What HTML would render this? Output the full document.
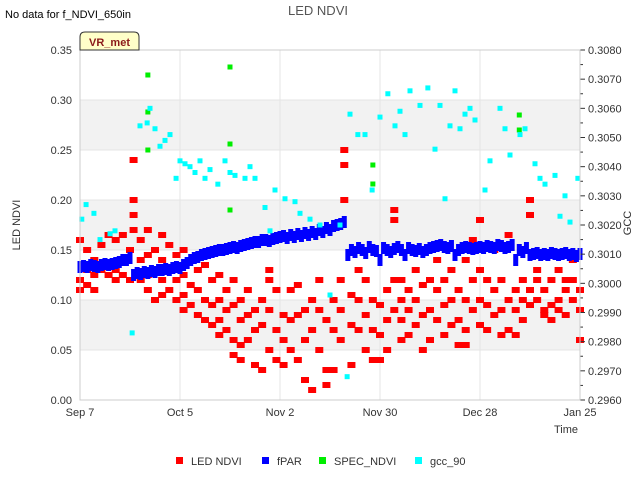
<!DOCTYPE html>
<html><head><meta charset="utf-8"><style>
body{margin:0;background:#fff;}
svg{display:block;font-family:"Liberation Sans",sans-serif;}
</style></head><body>
<svg id="chart" width="640" height="480" viewBox="0 0 640 480" xmlns="http://www.w3.org/2000/svg">
<rect x="0" y="0" width="640" height="480" fill="#fff"/>
<text x="5" y="18" font-size="11" fill="#000">No data for f_NDVI_650in</text>
<text x="318" y="15" font-size="13" fill="#555" text-anchor="middle">LED NDVI</text>
<g id="bands"></g>
<g id="grid"></g>
<g id="marks"></g>
<g id="axes"></g>
<g>
<path d="M80,50 L80,37 Q80,32 85,32 L134,32 Q139,32 139,37 L139,50 Z" fill="#ffffc8" stroke="#333" stroke-width="1"/>
<text x="109.5" y="46" font-size="11" font-weight="bold" fill="#8b1a1a" text-anchor="middle">VR_met</text>
</g>
<text transform="translate(20,225) rotate(-90)" font-size="11" fill="#333" text-anchor="middle">LED NDVI</text>
<text transform="translate(631,223) rotate(-90)" font-size="11" fill="#333" text-anchor="middle">GCC</text>
<text x="566" y="433" font-size="11" fill="#333" text-anchor="middle">Time</text>
<g id="legend"></g>
</svg>
<script>
const xTickLabels=["Sep 7","Oct 5","Nov 2","Nov 30","Dec 28","Jan 25"];
const xTickDays=[0,28,56,84,112,140];
const yTickLabels=["0.00","0.05","0.10","0.15","0.20","0.25","0.30","0.35"];
const y2TickLabels=["0.2960","0.2970","0.2980","0.2990","0.3000","0.3010","0.3020","0.3030","0.3040","0.3050","0.3060","0.3070","0.3080"];
const fparValues=[0.133,0.134,0.133,0.135,0.134,0.133,0.135,0.136,0.135,0.136,0.137,0.138,0.14,0.14,0.142,
0.125,0.127,0.126,0.128,0.127,0.129,0.128,0.13,0.13,0.131,0.13,0.132,0.133,0.132,
0.135,0.137,0.14,0.142,0.143,0.145,0.146,0.147,0.148,0.149,0.15,0.15,0.151,0.152,0.153,0.152,0.154,0.155,0.156,0.157,0.158,0.158,0.16,0.16,0.159,0.161,0.162,
0.163,0.164,0.162,0.165,0.163,0.166,0.164,0.167,0.165,0.168,0.166,0.17,0.168,0.172,0.17,0.174,0.175,0.176,0.178,
0.145,0.15,0.148,0.152,0.15,0.147,0.153,0.15,0.149,0.14,0.152,0.15,0.148,0.151,0.153,0.15,0.145,0.152,0.15,0.149,0.151,0.148,0.15,0.152,0.153,0.154,0.155,0.153,0.152,0.154,0.145,0.15,0.152,0.153,0.152,0.151,0.152,0.153,0.152,0.154,0.153,0.152,0.155,0.154,0.152,0.153,0.155,0.14,0.15,0.148,0.152,0.145,0.146,0.147,0.145,0.146,0.145,0.147,0.146,0.145,0.146,0.147,0.145,0.146,0.144,0.146];
const ledDays=[0,2,4,6,8,10,12,14,15,17,19,21,23,25,27,29,31,33,35,37,39,41,43,45,47,49,51,53,55,57,59,61,63,65,67,69,71,73,74,76,78,80,82,84,86,88,90,92,94,96,98,100,102,104,106,108,110,112,114,116,118,120,122,124,126,128,130,132,134,136,138,140];
const ledValues=[[0.16,0.12,0.11],[0.15,0.115,0.13],[0.14,0.125,0.11],[0.155,0.13],[0.165,0.125],[0.16,0.12,0.13],[0.165,0.125],[0.15,0.12],[0.24,0.2,0.185,0.17],[0.16,0.14,0.12],[0.17,0.145,0.125,0.11],[0.15,0.13,0.10],[0.165,0.14,0.12,0.105],[0.155,0.13,0.11],[0.145,0.12,0.10],[0.15,0.125,0.105,0.09],[0.14,0.115,0.095],[0.13,0.11,0.085],[0.135,0.10,0.08],[0.12,0.095,0.075],[0.125,0.1,0.08,0.065],[0.11,0.09,0.07],[0.12,0.095,0.06,0.045],[0.1,0.08,0.055,0.04],[0.11,0.085,0.06],[0.09,0.07,0.035],[0.1,0.075,0.03],[0.13,0.12,0.09,0.05],[0.11,0.07,0.04],[0.085,0.06,0.035],[0.11,0.08,0.05],[0.115,0.085,0.04],[0.09,0.06,0.02],[0.1,0.07,0.01],[0.12,0.09,0.05],[0.08,0.03,0.015],[0.1,0.07,0.03],[0.12,0.09,0.06],[0.25,0.235,0.2],[0.105,0.075,0.035],[0.13,0.1,0.07],[0.12,0.085,0.05],[0.1,0.07,0.04],[0.095,0.065,0.04],[0.11,0.08,0.05],[0.19,0.18,0.12,0.09],[0.12,0.1,0.08,0.06],[0.11,0.09,0.065],[0.13,0.1,0.075],[0.115,0.085,0.05],[0.12,0.09,0.06],[0.14,0.11,0.08],[0.12,0.095,0.065],[0.13,0.1,0.075],[0.11,0.08,0.055],[0.14,0.1,0.07,0.055],[0.16,0.12,0.09],[0.18,0.13,0.1,0.075],[0.12,0.095,0.07],[0.15,0.11,0.085],[0.12,0.09,0.065],[0.165,0.1,0.07],[0.11,0.09,0.065],[0.12,0.1,0.08],[0.2,0.185,0.11,0.095],[0.13,0.12,0.1],[0.11,0.09,0.085],[0.12,0.095,0.08],[0.13,0.1,0.09],[0.12,0.11,0.085],[0.14,0.12,0.1],[0.11,0.09,0.06]];
const specDays=[19,19,19,42,42,42,82,82,123,123];
const specValues=[0.325,0.288,0.25,0.333,0.256,0.19,0.235,0.216,0.285,0.27];
const gccDays=[0.5,1.7,3.9,5.6,8.4,9.8,14.6,16.8,18.8,19.6,21,22.4,23.8,25.2,26.9,28,29.4,30.8,32.2,33.6,35,36.4,38.6,40.6,42,43.4,46.2,47.6,49,51.8,53.2,54.6,57.4,60.2,61.6,64.4,67.2,70,72.8,74.8,75.6,77.8,79.8,81.8,84,86.2,88.2,89.6,91,92.4,95.2,97.4,99.4,100.8,102.2,103.6,105,106.4,107.8,109.2,110.6,113.4,114.8,117.6,119,120.4,123.2,124.6,127.4,128.8,130.2,133,134.4,135.8,137.2,139.4];
const gccValues=[0.3022,0.3027,0.3024,0.3015,0.3017,0.3018,0.2983,0.3054,0.3055,0.3060,0.3053,0.3047,0.3049,0.3051,0.3036,0.3042,0.3041,0.3040,0.3038,0.3042,0.3036,0.3039,0.3034,0.3042,0.3038,0.3037,0.3036,0.3040,0.3036,0.3026,0.3018,0.3032,0.3029,0.3028,0.3024,0.3022,0.3020,0.2996,0.3020,0.2968,0.3058,0.3051,0.3051,0.3032,0.3057,0.3065,0.3054,0.3059,0.3051,0.3066,0.3061,0.3067,0.3046,0.3061,0.3029,0.3054,0.3066,0.3053,0.3058,0.3060,0.3056,0.3032,0.3042,0.3060,0.3053,0.3044,0.3051,0.3053,0.3041,0.3036,0.3034,0.3037,0.3023,0.3030,0.3021,0.3036];

const NS="http://www.w3.org/2000/svg";
const L=80,R=580,T=50,B=400;
const xs=d=>L+d*(R-L)/140;
const ys=v=>B-v*(B-T)/0.35;
const y2s=v=>B-(v-0.296)*(B-T)/0.012;
function mk(tag,attrs,parent){const e=document.createElementNS(NS,tag);for(const k in attrs)e.setAttribute(k,attrs[k]);parent.appendChild(e);return e;}
const bands=document.getElementById('bands'),grid=document.getElementById('grid'),marks=document.getElementById('marks'),axes=document.getElementById('axes'),legend=document.getElementById('legend');
[[0.05,0.10],[0.15,0.20],[0.25,0.30]].forEach(b=>{const r=mk('rect',{x:L,y:ys(b[1]),width:R-L,height:ys(b[0])-ys(b[1]),fill:'#f2f2f2'},bands);

});
yTickLabels.forEach((t,i)=>{const v=i*0.05;const y=ys(v);
const g=mk('line',{x1:L,x2:R,y1:y,y2:y,stroke:'#e4e4e4','stroke-width':1},grid);


const tx=mk('text',{x:L-8,y:y+4,'font-size':11,fill:'#333','text-anchor':'end'},axes);tx.textContent=t;

});
xTickDays.forEach((d,i)=>{const x=xs(d);
const g=mk('line',{x1:x,x2:x,y1:T,y2:B,stroke:'#e4e4e4','stroke-width':1},grid);


const tx=mk('text',{x:x,y:B+16,'font-size':11,fill:'#333','text-anchor':'middle'},axes);tx.textContent=xTickLabels[i];

});
y2TickLabels.forEach((t,i)=>{const v=0.296+i*0.001;const y=y2s(v);
mk('line',{x1:R,x2:R+5,y1:y,y2:y,stroke:'#333'},axes);
if(i<12){const ym=y2s(v+0.0005);mk('line',{x1:R,x2:R+3,y1:ym,y2:ym,stroke:'#333'},axes);}
const tx=mk('text',{x:R+8,y:y+4,'font-size':11,fill:'#333'},axes);tx.textContent=t;

});
const frame=mk('rect',{x:L,y:T,width:R-L,height:B-T,fill:'none',stroke:'#ccc'},axes);



ledDays.forEach((d,i)=>{ledValues[i].forEach(v=>{
const r=mk('rect',{x:xs(d)-4,y:ys(v)-3,width:8,height:6,fill:'#ff0000'},marks);

});});
fparValues.forEach((v,d)=>{
const r=mk('rect',{x:xs(d)-2.5,y:ys(v)-6,width:5,height:12,fill:'#0000ff'},marks);

});
specDays.forEach((d,i)=>{
const r=mk('rect',{x:xs(d)-2.5,y:ys(specValues[i])-2.5,width:5,height:5,fill:'#00ee00'},marks);

});
gccDays.forEach((d,i)=>{
const r=mk('rect',{x:xs(d)-2.5,y:y2s(gccValues[i])-2.5,width:5,height:5,fill:'#00ffff'},marks);

});

const legItems=[["LED NDVI","#ff0000",176],["fPAR","#0000ff",262],["SPEC_NDVI","#00ee00",319],["gcc_90","#00ffff",415]];
legItems.forEach(it=>{
const s=mk('rect',{x:it[2],y:457,width:7,height:7,fill:it[1]},legend);


const tx=mk('text',{x:it[2]+15,y:465,'font-size':11,fill:'#333'},legend);tx.textContent=it[0];

});
</script>
</body></html>
